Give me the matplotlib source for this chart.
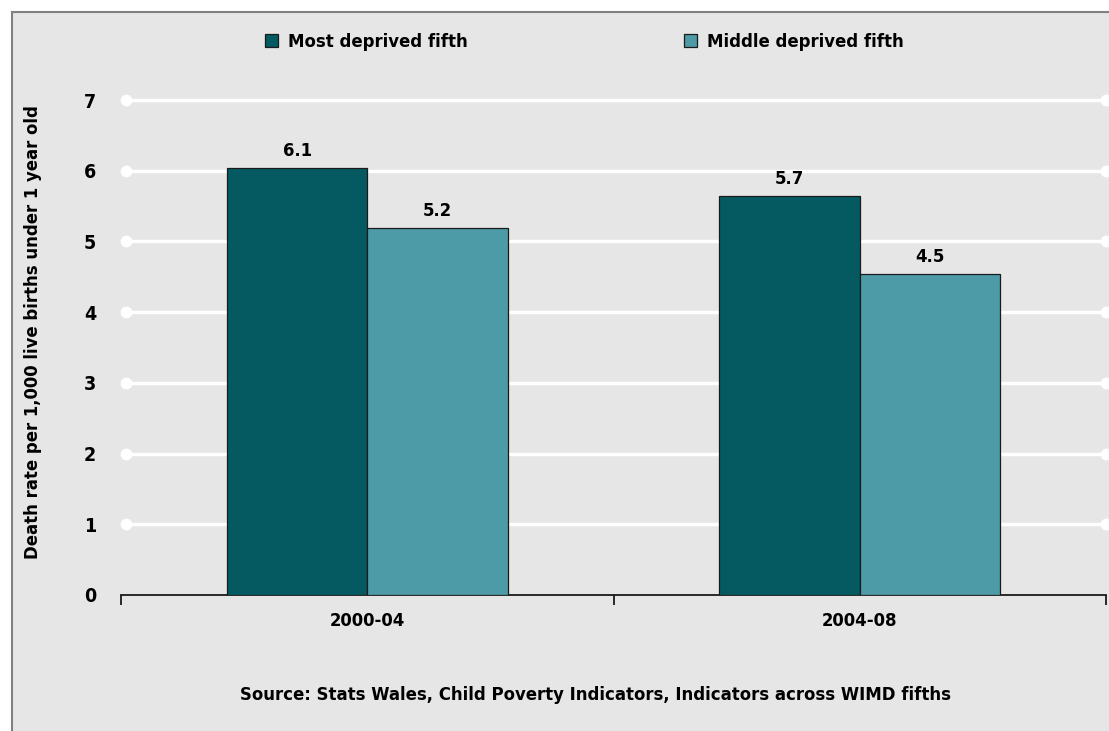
import matplotlib
matplotlib.use("Agg")
import matplotlib.pyplot as plt
from matplotlib.patches import Rectangle
from matplotlib import font_manager
import numpy as np

categories = ["2000-04", "2004-08"]
most_deprived = [6.04, 5.64]
middle_deprived = [5.19, 4.54]
most_labels = ["6.1", "5.7"]
middle_labels = ["5.2", "4.5"]
series_names = ["Most deprived fifth", "Middle deprived fifth"]
yticks = [0, 1, 2, 3, 4, 5, 6, 7]
ylabel = "Death rate per 1,000 live births under 1 year old"
source = "Source: Stats Wales, Child Poverty Indicators, Indicators across WIMD fifths"

cond = [f for f in font_manager.fontManager.ttflist
        if f.name == "DejaVu Sans" and str(f.stretch) in ("condensed", "semi-condensed", "600", "500")
        and f.weight in (700, "bold")]
if cond:
    plt.rcParams['font.family'] = ["DejaVu Sans"]
    plt.rcParams['font.stretch'] = 'condensed'
    FS = 13.2
    LFS = 13.2
else:
    plt.rcParams['font.family'] = ["Liberation Sans", "DejaVu Sans"]
    FS = 13.5
    LFS = 13.5
plt.rcParams['font.weight'] = 'bold'

c_dark = "#055a62"
c_light = "#4c9ba6"
bg = "#e6e6e6"

W, H = 1109, 731
fig = plt.figure(figsize=(W / 100, H / 100), dpi=100, facecolor="white")
fig.patches.append(Rectangle((12 / W, -0.01), 1.02, 1 - 12 / H + 0.01, transform=fig.transFigure,
                             facecolor=bg, edgecolor="#808080", lw=1.5, zorder=-10))

ax = fig.add_axes([121 / W, 1 - 595 / H, (1106 - 121) / W, (595 - 100) / H])
ax.set_facecolor("none")

x = np.arange(len(categories))
bw = 0.285
b1 = ax.bar(x - bw / 2, most_deprived, bw, color=c_dark, edgecolor="#1a1a1a", lw=0.9, zorder=3,
            label=series_names[0])
b2 = ax.bar(x + bw / 2, middle_deprived, bw, color=c_light, edgecolor="#1a1a1a", lw=0.9, zorder=3,
            label=series_names[1])

for bars, labs in ((b1, most_labels), (b2, middle_labels)):
    for r, lab in zip(bars, labs):
        ax.annotate(lab, (r.get_x() + r.get_width() / 2, r.get_height()), xytext=(0, 6),
                    textcoords="offset points", ha="center", va="bottom", fontsize=FS,
                    fontweight="bold")

ax.set_xlim(-0.5, len(categories) - 0.5)
ax.set_ylim(0, 7)

for yv in yticks[1:]:
    ax.plot([-0.5, len(categories) - 0.5], [yv, yv], color="white", lw=2.5, zorder=1,
            solid_capstyle="butt", clip_on=False)
    ax.plot([-0.49, len(categories) - 0.5], [yv, yv], ls="none", marker="o", ms=7.5,
            color="white", zorder=1, clip_on=False)

for s in ["left", "right", "top"]:
    ax.spines[s].set_visible(False)
ax.spines["bottom"].set_color("#1a1a1a")
ax.spines["bottom"].set_linewidth(1.3)

ax.set_yticks(yticks)
ax.set_yticklabels([str(v) for v in yticks], fontsize=FS + 0.8, fontweight="bold")
ax.tick_params(axis="y", length=0, pad=18)

ax.set_xticks(np.arange(-0.5, len(categories), 1.0))
ax.set_xticklabels([])
ax.set_xticks(x, minor=True)
ax.set_xticklabels(categories, minor=True, fontsize=FS, fontweight="bold")
ax.tick_params(axis="x", which="major", length=7, width=1.3, color="#1a1a1a", direction="out")
ax.tick_params(axis="x", which="minor", length=0, pad=12)

fig.text(33 / W, 1 - 332 / H, ylabel, rotation=90, ha="center", va="center",
         fontsize=LFS, fontweight="bold")
fig.text(595 / W, 1 - 695 / H, source, ha="center", va="center", fontsize=LFS, fontweight="bold")

leg = fig.legend(handles=[b1, b2], labels=series_names, loc="center", ncol=2,
                 bbox_to_anchor=(584 / W, 1 - 42 / H), frameon=False,
                 handlelength=0.75, handleheight=0.75, handletextpad=0.5, columnspacing=11.8,
                 prop={"weight": "bold", "size": LFS})

fig.savefig("out.png", dpi=100, facecolor=fig.get_facecolor())
